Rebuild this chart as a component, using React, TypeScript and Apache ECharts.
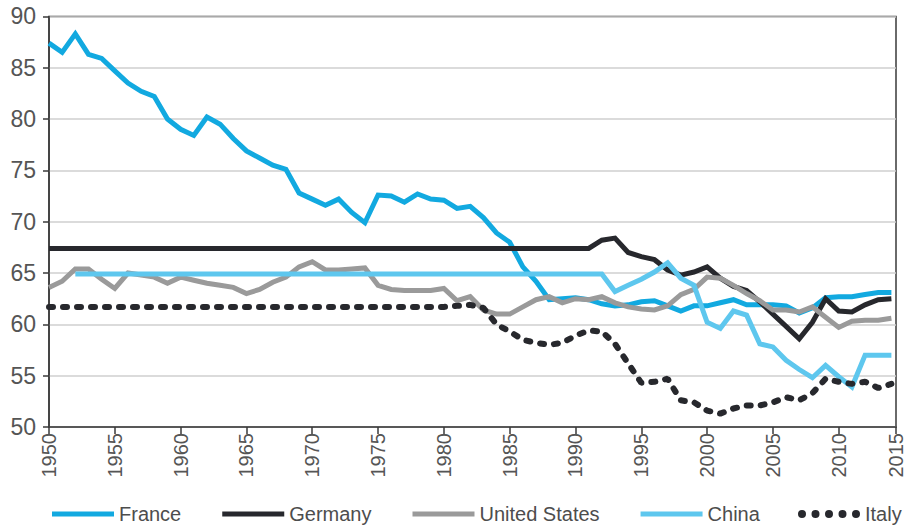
import React, { useEffect, useRef } from "react";
import * as echarts from "echarts";

const years = [
  1950, 1951, 1952, 1953, 1954, 1955, 1956, 1957, 1958, 1959,
  1960, 1961, 1962, 1963, 1964, 1965, 1966, 1967, 1968, 1969,
  1970, 1971, 1972, 1973, 1974, 1975, 1976, 1977, 1978, 1979,
  1980, 1981, 1982, 1983, 1984, 1985, 1986, 1987, 1988, 1989,
  1990, 1991, 1992, 1993, 1994, 1995, 1996, 1997, 1998, 1999,
  2000, 2001, 2002, 2003, 2004, 2005, 2006, 2007, 2008, 2009,
  2010, 2011, 2012, 2013, 2014,
];

const france = [
  87.4, 86.5, 88.3, 86.3, 85.9, 84.7, 83.5, 82.7, 82.2, 80.0,
  79.0, 78.4, 80.2, 79.5, 78.1, 76.9, 76.2, 75.5, 75.1, 72.8,
  72.2, 71.6, 72.2, 70.9, 69.9, 72.6, 72.5, 71.9, 72.7, 72.2,
  72.1, 71.3, 71.5, 70.4, 68.9, 68.0, 65.6, 64.2, 62.4, 62.5,
  62.6, 62.4, 62.0, 61.8, 61.9, 62.2, 62.3, 61.8, 61.3, 61.8,
  61.8, 62.1, 62.4, 61.9, 61.9, 61.9, 61.8, 61.1, 61.6, 62.6,
  62.7, 62.7, 62.9, 63.1, 63.1,
];

const germany = [
  67.4, 67.4, 67.4, 67.4, 67.4, 67.4, 67.4, 67.4, 67.4, 67.4,
  67.4, 67.4, 67.4, 67.4, 67.4, 67.4, 67.4, 67.4, 67.4, 67.4,
  67.4, 67.4, 67.4, 67.4, 67.4, 67.4, 67.4, 67.4, 67.4, 67.4,
  67.4, 67.4, 67.4, 67.4, 67.4, 67.4, 67.4, 67.4, 67.4, 67.4,
  67.4, 67.4, 68.2, 68.4, 67.0, 66.6, 66.3, 65.3, 64.8, 65.1,
  65.6, 64.5, 63.7, 63.3, 62.2, 61.0, 59.8, 58.6, 60.2, 62.5,
  61.3, 61.2, 61.9, 62.4, 62.5,
];

const unitedStates = [
  63.6, 64.2, 65.4, 65.4, 64.4, 63.5, 65.0, 64.8, 64.6, 64.0,
  64.6, 64.3, 64.0, 63.8, 63.6, 63.0, 63.4, 64.1, 64.6, 65.6,
  66.1, 65.3, 65.3, 65.4, 65.5, 63.8, 63.4, 63.3, 63.3, 63.3,
  63.5, 62.3, 62.7, 61.4, 61.0, 61.0, 61.7, 62.4, 62.7, 62.1,
  62.5, 62.4, 62.7, 62.1, 61.7, 61.5, 61.4, 61.8, 62.9, 63.4,
  64.6, 64.5, 63.8, 63.0, 62.3, 61.4, 61.4, 61.2, 61.7, 60.7,
  59.7, 60.3, 60.4, 60.4, 60.6,
];

const china = [
  null, null, 64.9, 64.9, 64.9, 64.9, 64.9, 64.9, 64.9, 64.9,
  64.9, 64.9, 64.9, 64.9, 64.9, 64.9, 64.9, 64.9, 64.9, 64.9,
  64.9, 64.9, 64.9, 64.9, 64.9, 64.9, 64.9, 64.9, 64.9, 64.9,
  64.9, 64.9, 64.9, 64.9, 64.9, 64.9, 64.9, 64.9, 64.9, 64.9,
  64.9, 64.9, 64.9, 63.2, 63.8, 64.4, 65.1, 66.0, 64.5, 63.8,
  60.2, 59.6, 61.3, 60.9, 58.1, 57.8, 56.5, 55.6, 54.8, 56.0,
  54.9, 53.9, 57.0, 57.0, 57.0,
];

const italy = [
  61.7, 61.7, 61.7, 61.7, 61.7, 61.7, 61.7, 61.7, 61.7, 61.7,
  61.7, 61.7, 61.7, 61.7, 61.7, 61.7, 61.7, 61.7, 61.7, 61.7,
  61.7, 61.7, 61.7, 61.7, 61.7, 61.7, 61.7, 61.7, 61.7, 61.7,
  61.7, 61.8, 61.9, 61.6, 60.0, 59.3, 58.5, 58.2, 58.0, 58.2,
  58.9, 59.4, 59.3, 58.1, 56.2, 54.3, 54.4, 54.7, 52.6, 52.4,
  51.6, 51.3, 51.8, 52.1, 52.1, 52.4, 52.9, 52.6, 53.3, 54.7,
  54.4, 54.2, 54.4, 53.8, 54.2,
];

const seriesNames = ["France", "Germany", "United States", "China", "Italy"];
const xTickLabelLast = "2015";

const FONT = "'Liberation Sans', Arial, Helvetica, sans-serif";

function pairs(vals: (number | null)[]) {
  return years.map((y, i) => [y, vals[i]]);
}

const dotsIcon =
  "path://" +
  [0, 13.5, 27, 40.5, 54]
    .map((x) => `M${x},4a4,4 0 1,0 8,0a4,4 0 1,0 -8,0Z`)
    .join("");

export default function App() {
  const ref = useRef<HTMLDivElement>(null);

  useEffect(() => {
    if (!ref.current) return;
    const chart = echarts.init(ref.current, null, { renderer: "svg" });

    const solid = (name: string, vals: (number | null)[], color: string) => ({
      name,
      type: "line",
      data: pairs(vals),
      symbol: "none",
      showSymbol: false,
      connectNulls: false,
      color,
      itemStyle: { color, borderWidth: 0 },
      lineStyle: { color, width: 5, cap: "butt", join: "miter" },
    });

    chart.setOption({
      animation: false,
      grid: {
        left: 49,
        right: 10,
        top: 16.4,
        bottom: 102,
        show: true,
        borderColor: "#3a3a3a",
        borderWidth: 1.5,
        backgroundColor: "transparent",
      },
      xAxis: {
        type: "value",
        min: 1950,
        max: 2014.35,
        interval: 5,
        axisLine: { show: true, lineStyle: { color: "#3a3a3a", width: 1.5 } },
        axisTick: { show: true, length: 7, lineStyle: { color: "#3a3a3a", width: 1.5 } },
        splitLine: { show: false },
        axisLabel: {
          rotate: 90,
          margin: 6,
          color: "#555",
          fontSize: 20,
          fontFamily: FONT,
          showMaxLabel: true,
          formatter: (v: number) => (v > 2012 ? xTickLabelLast : String(v)),
        },
      },
      yAxis: {
        type: "value",
        min: 50,
        max: 90,
        interval: 5,
        axisLine: { show: true, lineStyle: { color: "#3a3a3a", width: 1.5 } },
        axisTick: { show: true, length: 6, lineStyle: { color: "#3a3a3a", width: 1.5 } },
        splitLine: { show: true, lineStyle: { color: "#cfcfcf", width: 1.5 } },
        axisLabel: {
          margin: 13,
          color: "#555",
          fontSize: 23,
          fontFamily: FONT,
        },
      },
      legend: [
        {
          data: seriesNames.slice(0, 4),
          left: 47,
          top: 499,
          icon: "rect",
          itemWidth: 62,
          itemHeight: 5,
          itemGap: 41,
          selectedMode: false,
          itemStyle: { borderWidth: 0 },
          textStyle: { fontSize: 20, color: "#4d4d4d", fontFamily: FONT },
        },
        {
          data: [seriesNames[4]],
          left: 793,
          top: 499,
          icon: dotsIcon,
          itemWidth: 62,
          itemHeight: 8,
          selectedMode: false,
          itemStyle: { borderWidth: 0 },
          textStyle: { fontSize: 20, color: "#4d4d4d", fontFamily: FONT },
        },
      ],
      series: [
        solid(seriesNames[0], france, "#12a9e0"),
        solid(seriesNames[1], germany, "#27282d"),
        solid(seriesNames[2], unitedStates, "#9a9a9a"),
        solid(seriesNames[3], china, "#5ec7ee"),
        {
          name: seriesNames[4],
          type: "line",
          data: pairs(italy),
          symbol: "none",
          showSymbol: false,
          color: "#27282d",
          itemStyle: { color: "#27282d", borderWidth: 0 },
          lineStyle: { color: "#27282d", width: 6, type: [4, 10], cap: "round" },
        },
      ],
    });

    return () => chart.dispose();
  }, []);

  return (
    <div
      ref={ref}
      style={{ position: "fixed", left: 0, top: 0, width: 906, height: 529, background: "#fff" }}
    />
  );
}
